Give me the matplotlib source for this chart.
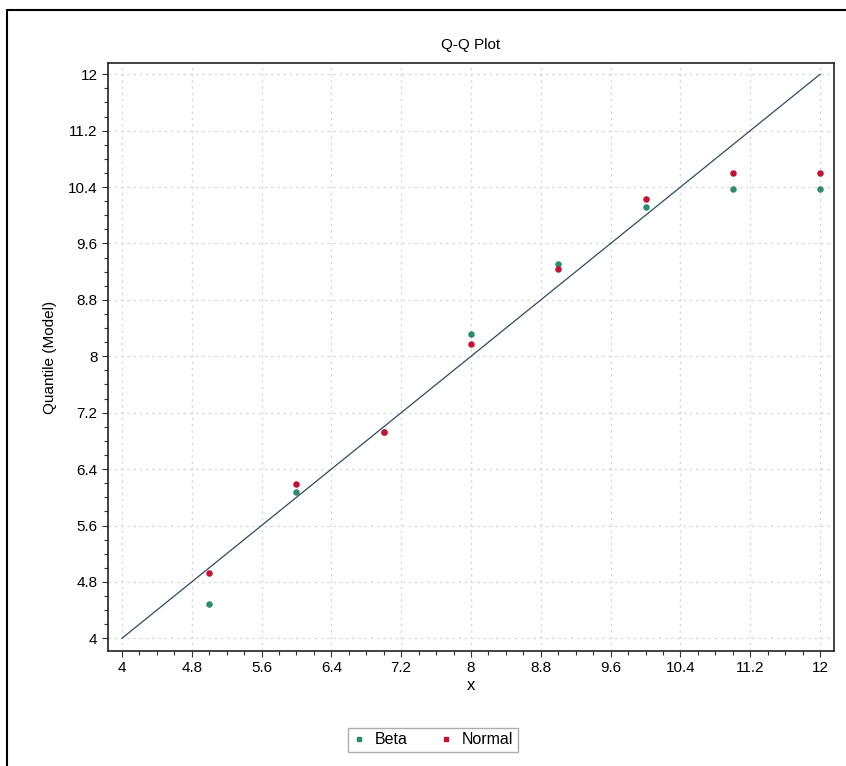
import matplotlib
matplotlib.use("Agg")
import matplotlib.pyplot as plt
from matplotlib.ticker import MultipleLocator, FuncFormatter
from matplotlib.patches import Rectangle
import numpy as np

x_vals = [5, 6, 7, 8, 9, 10, 11, 12]
beta_q = [4.49, 6.07, 6.93, 8.32, 9.31, 10.12, 10.37, 10.37]
normal_q = [4.92, 6.19, 6.93, 8.18, 9.24, 10.23, 10.60, 10.60]
ref_line = [4, 12]

plt.rcParams["font.family"] = ["Liberation Sans", "DejaVu Sans"]

W, H = 846, 766
fig = plt.figure(figsize=(W / 100, H / 100), dpi=100)
fig.patch.set_facecolor("white")
fig.patches.append(Rectangle((7 / W, -0.02), 1.1, 1.02 - 10 / H, transform=fig.transFigure,
                             fill=False, edgecolor="black", linewidth=1.5))

ax = fig.add_axes([108 / W, 1 - 651 / H, (834 - 108) / W, (651 - 63) / H])
ax.set_xlim(3.84, 12.16)
ax.set_ylim(3.82, 12.16)

ax.grid(True, which="major", linestyle=(0, (2, 3)), color="#d8d8d8", linewidth=0.9)
ax.set_axisbelow(True)

ax.plot(ref_line, ref_line, color="#2e4a66", linewidth=0.9, zorder=2)
ax.scatter(x_vals, beta_q, marker="o", s=22, color="#2e8b6e", zorder=3, label="Beta", linewidths=0)
ax.scatter(x_vals, normal_q, marker="o", s=22, color="#c41230", zorder=4, label="Normal", linewidths=0)

fmt = FuncFormatter(lambda v, p: ("%g" % round(v, 1)))
for a in (ax.xaxis, ax.yaxis):
    a.set_major_locator(MultipleLocator(0.8))
    a.set_minor_locator(MultipleLocator(0.2))
    a.set_major_formatter(fmt)
ax.set_xticks(np.arange(4, 12.01, 0.8))
ax.set_yticks(np.arange(4, 12.01, 0.8))
ax.tick_params(which="major", length=4, width=0.8, labelsize=11, color="#333333")
ax.tick_params(which="minor", length=3, width=0.8, color="#333333")
for s in ax.spines.values():
    s.set_linewidth(1.2)
    s.set_color("#222222")

ax.set_title("Q-Q Plot", fontsize=11, pad=10)
ax.set_xlabel("x", fontsize=12, labelpad=2)
ax.set_ylabel("Quantile (Model)", fontsize=11, labelpad=8)

leg = fig.legend(handles=[
    plt.Line2D([], [], marker="s", linestyle="", color="#2e8b6e", markersize=3.5),
    plt.Line2D([], [], marker="s", linestyle="", color="#c41230", markersize=3.5)],
    labels=["Beta", "Normal"], ncol=2, loc="center",
    bbox_to_anchor=(433 / W, 1 - 740 / H), fontsize=11.5, frameon=True,
    fancybox=False, edgecolor="#999999", handlelength=0.8, handletextpad=0.6,
    columnspacing=2.0, borderpad=0.3)
leg.get_frame().set_linewidth(1.0)

fig.savefig("out.png", dpi=100)
